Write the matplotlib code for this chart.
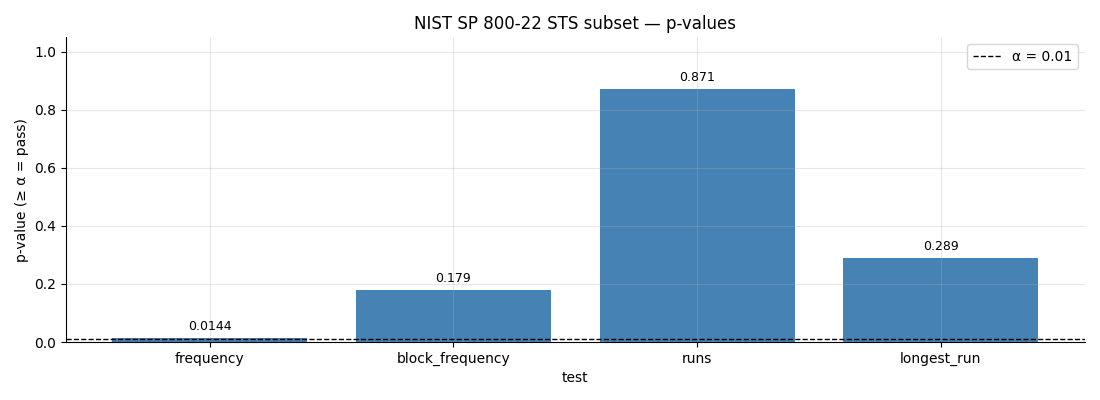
import matplotlib
matplotlib.use('Agg')
import matplotlib.pyplot as plt

tests = ['frequency', 'block_frequency', 'runs', 'longest_run']
p_values = [0.0144, 0.179, 0.871, 0.289]
labels = ['0.0144', '0.179', '0.871', '0.289']
alpha = 0.01

fig, ax = plt.subplots(figsize=(11, 4), dpi=100)
bars = ax.bar(tests, p_values, color='steelblue', width=0.8)
ax.axhline(alpha, color='black', linestyle='--', linewidth=1, label='α = 0.01')
for b, lab in zip(bars, labels):
    ax.text(b.get_x() + b.get_width() / 2, b.get_height() + 0.018, lab,
            ha='center', va='bottom', fontsize=9)

ax.set_ylim(0, 1.05)
ax.set_title('NIST SP 800-22 STS subset — p-values')
ax.set_xlabel('test')
ax.set_ylabel('p-value (≥ α = pass)')
ax.grid(True, alpha=0.3)
ax.spines['top'].set_visible(False)
ax.spines['right'].set_visible(False)
ax.legend(loc='upper right')

fig.subplots_adjust(left=0.06, right=0.986, top=0.907, bottom=0.145)
fig.savefig('out.png')
